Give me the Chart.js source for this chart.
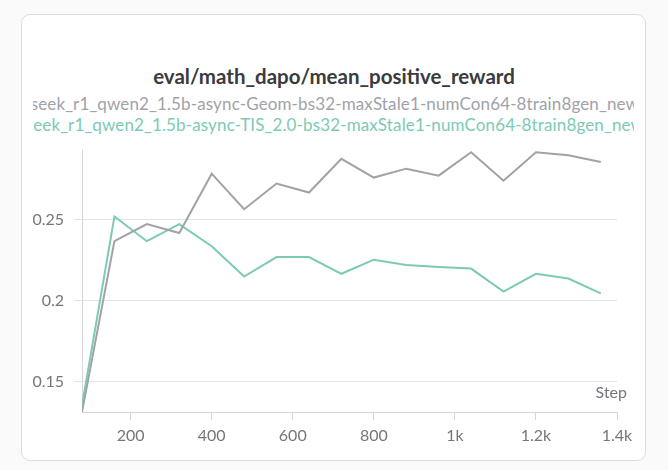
<!DOCTYPE html>
<html>
<head>
<meta charset="utf-8">
<script src="https://cdn.jsdelivr.net/npm/chart.js@4.4.1/dist/chart.umd.min.js"></script>
<style>
  html, body { margin: 0; padding: 0; background: #fafafa; }
  body { width: 668px; height: 470px; position: relative; overflow: hidden; font-family: Lato, sans-serif; }
  .card { position: absolute; left: 21px; top: 14px; width: 623px; height: 445px; background: #fff;
          border: 1px solid #dcdcdf; border-radius: 9px; }
  .title { position: absolute; left: 0; width: 668px; top: 62px; text-align: center; font-weight: 700;
           font-size: 20.5px; color: #3a3b40; line-height: 28px; }
  .legend { position: absolute; left: 33px; width: 601px; overflow: hidden; display: flex;
            justify-content: center; white-space: nowrap; font-size: 17px; line-height: 20px;
            letter-spacing: 0.13px; }
  .legend span { flex: none; transform: translateX(-4px); }
  canvas { position: absolute; left: 0; top: 0; }
</style>
</head>
<body>
<div class="card"></div>
<div class="title">eval/math_dapo/mean_positive_reward</div>
<div class="legend" id="leg0" style="top: 94px;"></div>
<div class="legend" id="leg1" style="top: 115px;"></div>
<canvas id="rewardChart" width="668" height="470"></canvas>
<script>
const steps = [80, 160, 240, 320, 400, 480, 560, 640, 720, 800, 880, 960, 1040, 1120, 1200, 1280, 1360];
const geomValues = [0.1315, 0.2368, 0.2473, 0.2418, 0.2784, 0.2565, 0.2723, 0.2668, 0.2876, 0.2760,
                    0.2815, 0.2772, 0.2916, 0.2741, 0.2916, 0.2898, 0.2856];
const tisValues = [0.1354, 0.2520, 0.2368, 0.2473, 0.2337, 0.2150, 0.2270, 0.2270, 0.2167, 0.2254,
                   0.2221, 0.2209, 0.2199, 0.2057, 0.2167, 0.2138, 0.2046];
const runNames = [
    'deepseek_r1_qwen2_1.5b-async-Geom-bs32-maxStale1-numCon64-8train8gen_new_v2',
    'deepseek_r1_qwen2_1.5b-async-TIS_2.0-bs32-maxStale1-numCon64-8train8gen_new_v2'
];
const yTicks = [0.15, 0.2, 0.25];
const xTicks = [200, 400, 600, 800, 1000, 1200, 1400];
const xTickLabels = ['200', '400', '600', '800', '1k', '1.2k', '1.4k'];

const GRAY = '#a1a2a8';
const TEAL = '#7dcab4';
const TICK_COLOR = '#75767d';

// legend rows (clipped like the panel does)
[GRAY, TEAL].forEach((c, i) => {
    const el = document.getElementById('leg' + i);
    const s = document.createElement('span');
    s.textContent = runNames[i];
    s.style.color = c;
    el.appendChild(s);
});

// "Step" caption at the bottom right of the plot
const stepLabel = {
    id: 'stepLabel',
    afterDraw(chart) {
        const { ctx, chartArea } = chart;
        ctx.save();
        ctx.font = '16px Lato';
        ctx.fillStyle = TICK_COLOR;
        ctx.textAlign = 'right';
        ctx.textBaseline = 'middle';
        ctx.fillText('Step', chartArea.right + 10, chartArea.bottom - 19);
        ctx.restore();
    }
};

const ctx = document.getElementById('rewardChart').getContext('2d');
new Chart(ctx, {
    type: 'line',
    data: {
        datasets: [
            {
                label: runNames[0],
                data: steps.map((s, i) => ({ x: s, y: geomValues[i] })),
                borderColor: GRAY,
                borderWidth: 2,
                pointRadius: 0,
                tension: 0
            },
            {
                label: runNames[1],
                data: steps.map((s, i) => ({ x: s, y: tisValues[i] })),
                borderColor: TEAL,
                borderWidth: 2,
                pointRadius: 0,
                tension: 0
            }
        ]
    },
    options: {
        responsive: false,
        animation: false,
        layout: { padding: { top: 150, right: 51, left: 0, bottom: 18 } },
        plugins: {
            legend: { display: false },
            title: { display: false },
            tooltip: { enabled: false }
        },
        scales: {
            x: {
                type: 'linear',
                min: 80,
                max: 1400,
                afterFit: s => { s.height = 40; },
                afterBuildTicks: s => { s.ticks = xTicks.map(v => ({ value: v })); },
                ticks: {
                    color: TICK_COLOR,
                    font: { family: 'Lato', size: 16 },
                    padding: 6,
                    maxRotation: 0,
                    callback: v => xTickLabels[xTicks.indexOf(v)]
                },
                grid: { drawOnChartArea: false, drawTicks: true, tickLength: 8, color: '#d6d6d9' },
                border: { color: '#d6d6d9' }
            },
            y: {
                type: 'linear',
                min: 0.1315,
                max: 0.293,
                afterFit: s => { s.width = 82; },
                afterBuildTicks: s => { s.ticks = yTicks.map(v => ({ value: v })); },
                ticks: {
                    color: TICK_COLOR,
                    font: { family: 'Lato', size: 16 },
                    padding: 10,
                    callback: v => String(v)
                },
                grid: { color: '#e4e4e6', tickLength: 8 },
                border: { color: '#d6d6d9' }
            }
        }
    },
    plugins: [stepLabel]
});
</script>
</body>
</html>
